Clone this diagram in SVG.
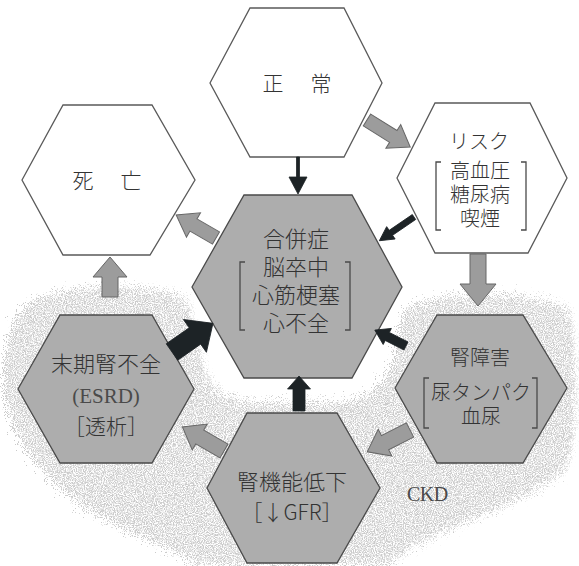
<svg xmlns="http://www.w3.org/2000/svg" width="579" height="566" viewBox="0 0 579 566">
<defs>
<style>
.hw{fill:#ffffff;stroke:#5a5a5a;stroke-width:1.3}
.hg{fill:#adadad;stroke:#4a4a4a;stroke-width:1.3}
.t{font-family:"Noto Sans CJK JP","Noto Sans CJK SC",sans-serif;fill:#333;text-anchor:middle;font-weight:300}
.l{font-family:"Liberation Serif","Noto Sans CJK JP",serif;fill:#4a4a4a}
.br{fill:none;stroke:#4a4a4a;stroke-width:1.3}
.ag{fill:#9c9c9c;stroke:#666;stroke-width:1}
.ad{fill:#1d2326;stroke:#1d2326;stroke-width:0.8}
</style>
<filter id="speck" x="-10%" y="-10%" width="120%" height="120%">
<feTurbulence type="fractalNoise" baseFrequency="0.9" numOctaves="2" seed="4" result="n"/>
<feDisplacementMap in="SourceGraphic" in2="n" scale="36" xChannelSelector="R" yChannelSelector="G" result="d"/>
<feColorMatrix in="n" type="matrix" values="0 0 0 0 0.6 0 0 0 0 0.6 0 0 0 0 0.6 3.6 0 0 0 -1.3" result="dots"/>
<feComposite in="dots" in2="d" operator="in"/>
</filter>
</defs>
<rect width="579" height="566" fill="#ffffff"/>
<g id="ckd-area">
<path filter="url(#speck)" fill="#888" d="M40,298 C90,282 160,285 190,300 L205,360 C210,390 230,402 260,402 L340,402 C370,400 385,385 395,360 L405,310 C440,290 540,290 572,310 C582,360 580,440 568,470 C530,500 470,520 430,540 C400,552 392,566 392,566 L200,566 C170,545 110,528 70,495 C30,462 5,420 5,380 C5,340 15,310 40,298 Z"/>
<text class="l" x="407" y="501" font-size="20" letter-spacing="-0.5">CKD</text>
</g>
<g id="normal">
<polygon class="hw" points="210,83 250,8 344,8 382,83 344,157 250,157"/>
<text class="t" x="273" y="91" font-size="21">正</text>
<text class="t" x="321" y="91" font-size="21">常</text>
</g>
<g id="death">
<polygon class="hw" points="22,180 63,105 152,105 195,180 150,255 63,255"/>
<text class="t" x="83" y="188" font-size="21">死</text>
<text class="t" x="131" y="188" font-size="21">亡</text>
</g>
<g id="risk">
<polygon class="hw" points="397,178 435,103 530,103 567,178 528,253 435,253"/>
<text class="t" x="479" y="149" font-size="20">リスク</text>
<text class="t" x="480" y="178" font-size="20">高血圧</text>
<text class="t" x="480" y="202" font-size="20">糖尿病</text>
<text class="t" x="480" y="226" font-size="20">喫煙</text>
<path class="br" d="M441,162 H436 V230 H441 M521,162 H526 V230 H521"/>
</g>
<g id="complication">
<polygon class="hg" points="192,287 244,195 352,195 402,287 352,378 244,378"/>
<text class="t" x="296" y="247" font-size="22">合併症</text>
<text class="t" x="296" y="275" font-size="22">脳卒中</text>
<text class="t" x="296" y="303" font-size="22">心筋梗塞</text>
<text class="t" x="296" y="331" font-size="22">心不全</text>
<path class="br" d="M245,262 H240 V330 H245 M345,262 H350 V330 H345"/>
</g>
<g id="esrd">
<polygon class="hg" points="18,389 60,315 152,315 194,389 152,463 60,463"/>
<text class="t" x="106" y="372" font-size="22">末期腎不全</text>
<text class="l" x="106" y="403" font-size="21" text-anchor="middle">(ESRD)</text>
<text class="t" x="106" y="434" font-size="21">［透析］</text>
</g>
<g id="kidney-damage">
<polygon class="hg" points="395,388 437,315 523,315 567,388 523,463 437,463"/>
<text class="t" x="480" y="365" font-size="20">腎障害</text>
<text class="t" x="481" y="400" font-size="20">尿タンパク</text>
<text class="t" x="481" y="424" font-size="20">血尿</text>
<path class="br" d="M429,378 H424 V428 H429 M532,378 H537 V428 H532"/>
</g>
<g id="gfr-decline">
<polygon class="hg" points="207,488 247,413 337,413 380,488 337,563 247,563"/>
<text class="t" x="292" y="490" font-size="22">腎機能低下</text>
<text class="t" x="292" y="520" font-size="21">［↓GFR］</text>
</g>
<g id="connectors">
<polygon class="ad" transform="translate(298,157) rotate(90)" points="0,-1.5 20,-1.5 20,-9 37,0 20,9 20,1.5 0,1.5"/>
<polygon class="ag" transform="translate(367,120) rotate(32)" points="0,-7 31,-7 31,-14 51,0 31,14 31,7 0,7"/>
<polygon class="ad" transform="translate(414,217) rotate(145.6)" points="0,-3 28,-3 28,-7.5 42,0 28,7.5 28,3 0,3"/>
<polygon class="ag" transform="translate(216,238) rotate(210)" points="0,-7 26,-7 26,-14 46,0 26,14 26,7 0,7"/>
<polygon class="ag" transform="translate(110,297) rotate(-90)" points="0,-8 20,-8 20,-17 40,0 20,17 20,8 0,8"/>
<polygon class="ad" transform="translate(172,352) rotate(-35)" points="0,-10 28,-10 28,-20 50,0 28,20 28,10 0,10"/>
<polygon class="ad" transform="translate(406,346) rotate(207)" points="0,-4.5 21,-4.5 21,-9 35,0 21,9 21,4.5 0,4.5"/>
<polygon class="ad" transform="translate(299,411) rotate(-90)" points="0,-6 22,-6 22,-11.5 35,0 22,11.5 22,6 0,6"/>
<polygon class="ag" transform="translate(478,254) rotate(90)" points="0,-8 30,-8 30,-18 52,0 30,18 30,8 0,8"/>
<polygon class="ag" transform="translate(410,430) rotate(153)" points="0,-8 28,-8 28,-15 48,0 28,15 28,8 0,8"/>
<polygon class="ag" transform="translate(224,451) rotate(210)" points="0,-8 28,-8 28,-15 48,0 28,15 28,8 0,8"/>
</g>
</svg>
